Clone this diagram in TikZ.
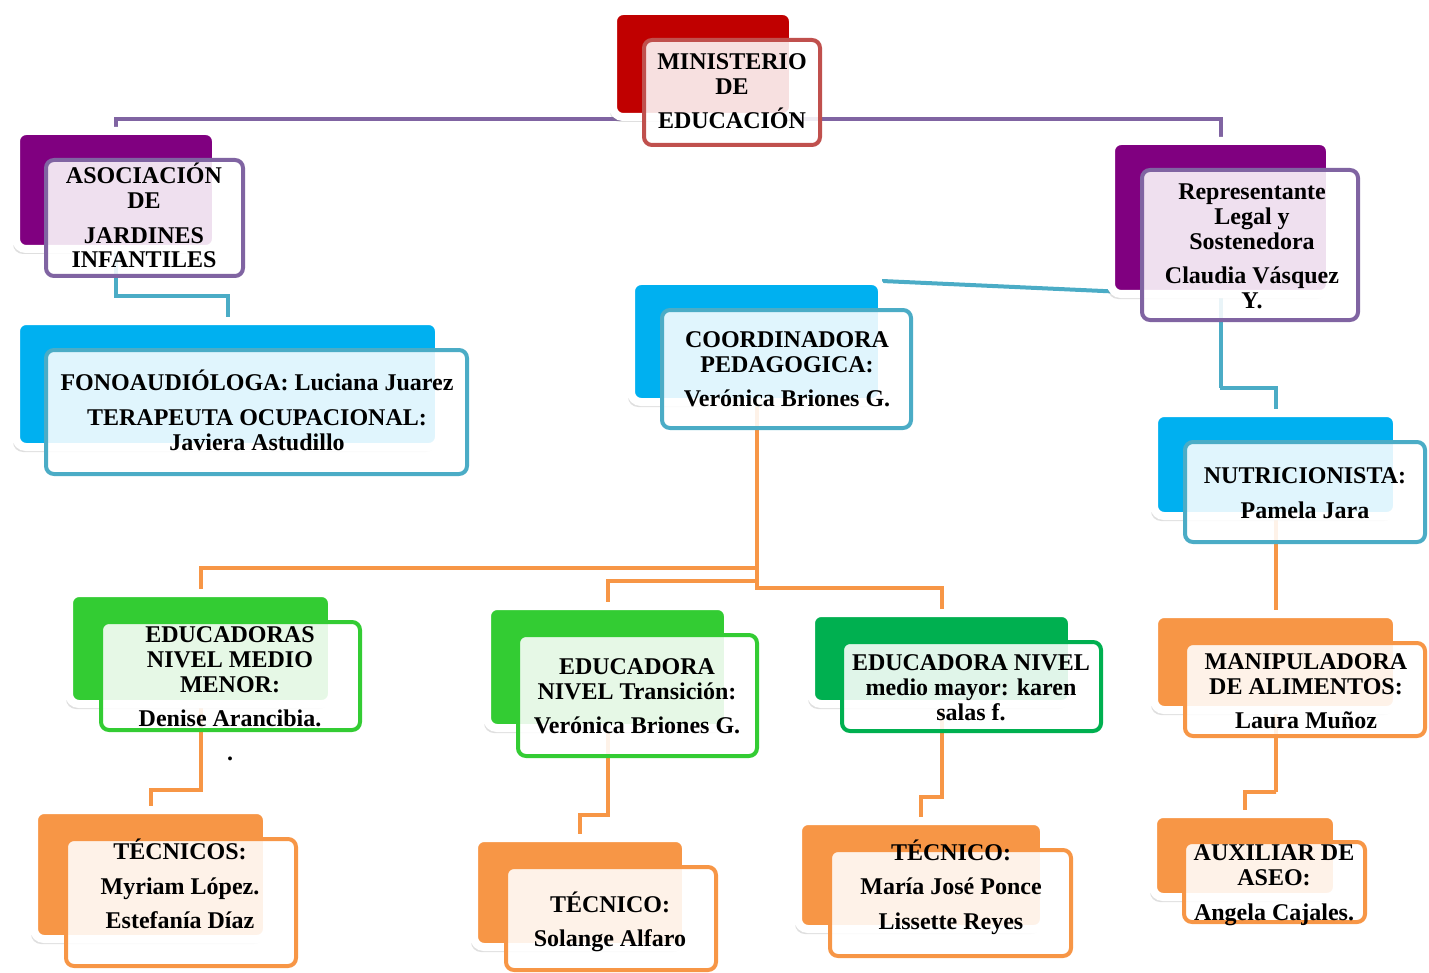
\documentclass[tikz,border=0pt]{standalone}
\usepackage{fontspec}
\setmainfont{Liberation Serif}
\usetikzlibrary{shadows,backgrounds}
\definecolor{redM}{HTML}{C00000}
\definecolor{redL}{HTML}{C0504D}
\definecolor{purpleM}{HTML}{800080}
\definecolor{purpleL}{HTML}{8064A2}
\definecolor{blueM}{HTML}{00B0F0}
\definecolor{blueL}{HTML}{4BACC6}
\definecolor{greenM}{HTML}{33CC33}
\definecolor{greenD}{HTML}{00B050}
\definecolor{orangeM}{HTML}{F79646}
\begin{document}
\begin{tikzpicture}[x=0.5pt,y=-0.5pt]
\tikzstyle{backbox}=[rectangle,rounded corners=5pt,draw=white,line width=4pt,outer sep=0pt,
  drop shadow={shadow xshift=-1.5pt,shadow yshift=-2.5pt,opacity=0.25}]
\tikzstyle{frontbox}=[rectangle,rounded corners=4pt,line width=2pt,fill=white,fill opacity=0.88]
\tikzstyle{boxtext}=[anchor=base,align=center,inner sep=0pt,font=\bfseries\fontsize{12}{12.5}\selectfont]
\tikzstyle{link}=[line width=2pt]
  \useasboundingbox (0,0) rectangle (1429,973);

  % top
  \node[backbox,fill=redM,minimum width=90pt,minimum height=53pt] (minB) at (703,64) {};
  \node[frontbox,draw=redL,minimum width=88pt,minimum height=52.5pt] (minF) at (732,92.5) {};
  \node[boxtext] (minT) at (732,129) {MINISTERIO\\DE\\[4.5pt]EDUCACIÓN};

  % left side
  \node[backbox,fill=purpleM,minimum width=100pt,minimum height=59pt] (asoB) at (116,190) {};
  \node[frontbox,draw=purpleL,minimum width=98.5pt,minimum height=58pt] (asoF) at (144.5,218) {};
  \node[boxtext] (asoT) at (144,268) {ASOCIACIÓN\\DE\\[4.5pt]JARDINES\\INFANTILES};

  \node[backbox,fill=blueM,minimum width=211.5pt,minimum height=63pt] (foB) at (227.5,384) {};
  \node[frontbox,draw=blueL,minimum width=210.5pt,minimum height=62pt] (foF) at (256.5,412) {};
  \node[boxtext] (foT) at (257,450) {FONOAUDIÓLOGA: Luciana Juarez\\[5pt]TERAPEUTA OCUPACIONAL:\\Javiera Astudillo};

  % right side
  \node[backbox,fill=purpleM,minimum width=109.5pt,minimum height=76.5pt] (repB) at (1220.5,217.5) {};
  \node[frontbox,draw=purpleL,minimum width=108pt,minimum height=75pt] (repF) at (1250,245) {};
  \node[boxtext] (repT) at (1252,308) {Representante\\Legal y\\Sostenedora\\[4.5pt]Claudia Vásquez\\Y.};

  \node[backbox,fill=blueM,minimum width=121.5pt,minimum height=51.5pt] (nuB) at (1275.5,464.5) {};
  \node[frontbox,draw=blueL,minimum width=120pt,minimum height=50pt] (nuF) at (1305,492) {};
  \node[boxtext] (nuT) at (1305,518) {NUTRICIONISTA:\\[5pt]Pamela Jara};

  \node[backbox,fill=orangeM,minimum width=121.5pt,minimum height=48pt] (maB) at (1275.5,662) {};
  \node[frontbox,draw=orangeM,minimum width=120pt,minimum height=46.5pt] (maF) at (1305,689.5) {};
  \node[boxtext] (maT) at (1306,728) {MANIPULADORA\\DE ALIMENTOS:\\[4.5pt]Laura Muñoz};

  \node[backbox,fill=orangeM,minimum width=92pt,minimum height=41.5pt] (auB) at (1245,855.5) {};
  \node[frontbox,draw=orangeM,minimum width=90.5pt,minimum height=40pt] (auF) at (1274.5,882) {};
  \node[boxtext] (auT) at (1274,920) {AUXILIAR DE\\ASEO:\\[5pt]Angela Cajales.};

  % middle
  \node[backbox,fill=blueM,minimum width=125.5pt,minimum height=60.5pt] (coB) at (756.5,341.5) {};
  \node[frontbox,draw=blueL,minimum width=124.5pt,minimum height=59pt] (coF) at (786.5,369) {};
  \node[boxtext] (coT) at (787,406) {COORDINADORA\\PEDAGOGICA:\\[4.5pt]Verónica Briones G.};

  \node[backbox,fill=greenM,minimum width=131.5pt,minimum height=55.5pt] (emB) at (200.5,648.5) {};
  \node[frontbox,draw=greenM,minimum width=129.5pt,minimum height=54pt] (emF) at (230.5,676) {};
  \node[boxtext] (emT) at (230,726) {EDUCADORAS\\NIVEL MEDIO\\MENOR:\\[4.5pt]Denise Arancibia.};
  \node[boxtext] (emDot) at (230,760) {.};

  \node[backbox,fill=greenM,minimum width=120.5pt,minimum height=61pt] (etB) at (607.5,667) {};
  \node[frontbox,draw=greenM,minimum width=119.5pt,minimum height=60.5pt] (etF) at (637.5,695.5) {};
  \node[boxtext] (etT) at (637,733) {EDUCADORA\\NIVEL Transición:\\[4.5pt]Verónica Briones G.};

  \node[backbox,fill=greenD,minimum width=130.5pt,minimum height=45.5pt] (eyB) at (941.5,658.5) {};
  \node[frontbox,draw=greenD,minimum width=129.5pt,minimum height=44.5pt] (eyF) at (971.5,686.5) {};
  \node[boxtext] (eyT) at (971,720) {EDUCADORA NIVEL\\medio mayor: karen\\salas f.};

  % bottom row
  \node[backbox,fill=orangeM,minimum width=116.5pt,minimum height=64.5pt] (tsB) at (150.5,874.5) {};
  \node[frontbox,draw=orangeM,minimum width=115pt,minimum height=63.5pt] (tsF) at (181,902.5) {};
  \node[boxtext] (tsT) at (180,928) {TÉCNICOS:\\[5pt]Myriam López.\\[4.5pt]Estefanía Díaz};

  \node[backbox,fill=orangeM,minimum width=106pt,minimum height=54.5pt] (taB) at (580,892.5) {};
  \node[frontbox,draw=orangeM,minimum width=105pt,minimum height=51.5pt] (taF) at (611,918.5) {};
  \node[boxtext] (taT) at (610,946) {TÉCNICO:\\[4.5pt]Solange Alfaro};

  \node[backbox,fill=orangeM,minimum width=123pt,minimum height=54pt] (tmB) at (921,875) {};
  \node[frontbox,draw=orangeM,minimum width=120.5pt,minimum height=53pt] (tmF) at (950.5,903) {};
  \node[boxtext] (tmT) at (951,929) {TÉCNICO:\\[4.5pt]María José Ponce\\[5pt]Lissette Reyes};

  % connectors
  \coordinate (minJ) at (732,119);
  \coordinate (asoJ) at (116,296);
  \coordinate (repJ) at (1220,388);
  \coordinate (coJa) at (757,568);
  \coordinate (coJb) at (757,581);
  \coordinate (coJc) at (757,588);
  \coordinate (emJ) at (200,790);
  \coordinate (etJ) at (607,815);
  \coordinate (eyJ) at (941,797);
  \coordinate (maJ) at (1276,792);
  \begin{pgfonlayer}{background}
    \draw[link,purpleL] (asoB) |- (minJ) -| (repB);
    \draw[link,blueL] (asoB) |- (asoJ) -| (foB);
    \draw[link,blueL] (coB.north east) -- (repB.214);
    \draw[link,blueL] (repB) |- (repJ) -| (nuB);
    \draw[link,orangeM] (nuB) -- (maB);
    \draw[link,orangeM] (maB) |- (maJ) -| (auB);
    \draw[link,orangeM] (coB) |- (coJa) -| (emB);
    \draw[link,orangeM] (coB) |- (coJb) -| (etB);
    \draw[link,orangeM] (coB) |- (coJc) -| (eyB);
    \draw[link,orangeM] (emB) |- (emJ) -| (tsB);
    \draw[link,orangeM] (etB) |- (etJ) -| (taB);
    \draw[link,orangeM] (eyB) |- (eyJ) -| (tmB);
  \end{pgfonlayer}
\end{tikzpicture}
\end{document}
